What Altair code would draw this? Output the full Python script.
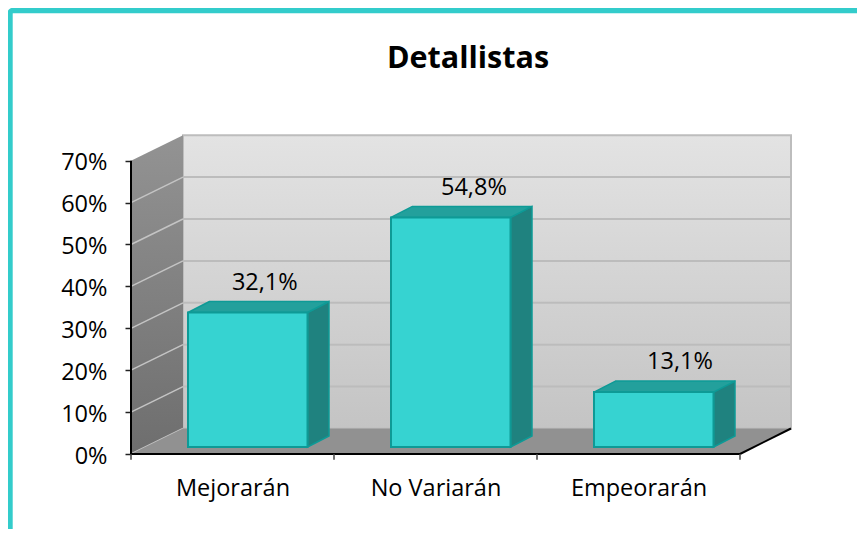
import altair as alt
import pandas as pd

title_text = "Detallistas"
categories = ["Mejorarán", "No Variarán", "Empeorarán"]
values = [32.1, 54.8, 13.1]
labels = ["32,1%", "54,8%", "13,1%"]
y_ticks = [0, 10, 20, 30, 40, 50, 60, 70]
x_ticks = [0, 1, 2, 3]
x_label_pos = [0.5, 1.5, 2.5]

# scale geometry (data units)
W, H = 660, 319
XMAX, YMAX = 660 / 203, 319 / 4.19
WALL_DX, WALL_DY = 52 / 203, 25.5 / 4.19      # depth of the floor
BAR_X0, BAR_W = 57 / 203, 119.5 / 203         # bar front offset and width
BAR_BASE = 7 / 4.19
BAR_DX, BAR_DY = 21.5 / 203, 11 / 4.19        # depth of a bar
LABEL_SHIFT = [0.084, 0.114, 0.129]           # data labels sit right of bar centres

FONT = "Open Sans"
FS = 23.5
xs = alt.Scale(domain=[0, XMAX], nice=False, zero=False)
ys = alt.Scale(domain=[0, YMAX], nice=False, zero=False)

expr = "[" + ",".join(f"'{c}'" for c in categories) + "][floor(datum.value)]"
x_axis = alt.Axis(values=x_label_pos, labelExpr=expr, domain=False, ticks=False, grid=False,
                  labelFont=FONT, labelFontSize=FS, labelColor="#000000", labelPadding=34,
                  labelAngle=0, labelBaseline="middle", title=None)
y_axis = alt.Axis(values=y_ticks, labelExpr="datum.value + '%'", domain=False, grid=False,
                  tickColor="#222222", tickSize=6, tickWidth=1.5, labelFont=FONT, labelFontSize=FS,
                  labelColor="#000000", labelPadding=18, labelOffset=2, title=None)


def X(f="x"):
    return alt.X(f"{f}:Q", scale=xs, axis=x_axis)


def Y(f="y"):
    return alt.Y(f"{f}:Q", scale=ys, axis=y_axis, stack=None)


def grad(top, bottom):
    return alt.LinearGradient(
        gradient="linear", x1=0, x2=0, y1=0, y2=1,
        stops=[alt.GradientStop(color=top, offset=0), alt.GradientStop(color=bottom, offset=1)],
    )


# back wall
back = alt.Chart(pd.DataFrame({"x": [WALL_DX], "x2": [XMAX], "y": [WALL_DY], "y2": [70 + WALL_DY]})).mark_rect(
    fill=grad("#e3e3e3", "#c4c4c4"), stroke="#bdbdbd", strokeWidth=2
).encode(x=X(), x2="x2:Q", y=Y(), y2="y2:Q")

# back wall grid lines
grid_df = pd.DataFrame({"y": [v + WALL_DY for v in y_ticks[1:-1]], "x": WALL_DX, "x2": XMAX})
grid = alt.Chart(grid_df).mark_rule(color="#bcbcbc", strokeWidth=2).encode(x=X(), x2="x2:Q", y=Y())

# left wall
left_df = pd.DataFrame({"x": [0, WALL_DX], "y": [0, WALL_DY], "y2": [70, 70 + WALL_DY]})
left = alt.Chart(left_df).mark_area(orient="vertical", fill=grad("#939393", "#6e6e6e")).encode(
    x=X(), y=Y(), y2="y2:Q"
)

# left wall lines
lw_df = pd.DataFrame({"x": 0.0, "x2": WALL_DX, "y": y_ticks[:-1], "y2": [v + WALL_DY for v in y_ticks[:-1]]})
left_lines = alt.Chart(lw_df).mark_rule(color="#c4c4c4", strokeWidth=1.5).encode(
    x=X(), x2="x2:Q", y=Y(), y2="y2:Q"
)

# floor
floor_df = pd.DataFrame({"y": [0, WALL_DY], "x": [0, WALL_DX], "x2": [3, XMAX]})
floor = alt.Chart(floor_df).mark_area(orient="horizontal", fill="#919191").encode(
    y=Y(), x=X(), x2="x2:Q"
)

# bars
front_rows, top_rows, side_rows, label_rows = [], [], [], []
for i, (c, v, lab) in enumerate(zip(categories, values, labels)):
    x0 = i + BAR_X0
    x1 = x0 + BAR_W
    top = v + BAR_BASE
    front_rows.append({"c": c, "x": x0, "x2": x1, "y": BAR_BASE, "y2": top})
    top_rows += [
        {"c": c, "y": top, "x": x0, "x2": x1},
        {"c": c, "y": top + BAR_DY, "x": x0 + BAR_DX, "x2": x1 + BAR_DX},
    ]
    side_rows += [
        {"c": c, "x": x1, "y": BAR_BASE, "y2": top},
        {"c": c, "x": x1 + BAR_DX, "y": BAR_BASE + BAR_DY, "y2": top + BAR_DY},
    ]
    label_rows.append({"x": (x0 + x1) / 2 + LABEL_SHIFT[i], "y": top + 7.1, "t": lab})

EDGE = "#0e9a96"
side = alt.Chart(pd.DataFrame(side_rows)).mark_area(
    orient="vertical", fill="#1f827f", stroke=EDGE, strokeWidth=1.5
).encode(x=X(), y=Y(), y2="y2:Q", detail="c:N")
topf = alt.Chart(pd.DataFrame(top_rows)).mark_area(
    orient="horizontal", fill="#23a09c", stroke=EDGE, strokeWidth=1.5
).encode(y=Y(), x=X(), x2="x2:Q", detail="c:N")
front = alt.Chart(pd.DataFrame(front_rows)).mark_rect(
    fill="#36d3d1", stroke=EDGE, strokeWidth=2
).encode(x=X(), x2="x2:Q", y=Y(), y2="y2:Q")

text = alt.Chart(pd.DataFrame(label_rows)).mark_text(
    font=FONT, fontSize=FS, color="#000000", baseline="middle"
).encode(x=X(), y=Y(), text="t:N")

# axis lines
y_line = alt.Chart(pd.DataFrame({"x": [0], "y": [0], "y2": [70]})).mark_rule(color="#000000", strokeWidth=2).encode(
    x=X(), y=Y(), y2="y2:Q"
)
x_line = alt.Chart(pd.DataFrame({"x": [0], "x2": [3], "y": [0]})).mark_rule(color="#000000", strokeWidth=2).encode(
    x=X(), x2="x2:Q", y=Y()
)
diag = alt.Chart(pd.DataFrame({"x": [3], "x2": [XMAX], "y": [0], "y2": [WALL_DY]})).mark_rule(
    color="#000000", strokeWidth=2
).encode(x=X(), x2="x2:Q", y=Y(), y2="y2:Q")
x_tick_marks = alt.Chart(pd.DataFrame({"x": x_ticks, "y": 0.0, "y2": -1.4})).mark_rule(
    color="#444444", strokeWidth=1.5
).encode(x=X(), y=Y(), y2="y2:Q")

# outer frame and title, placed in pixels relative to the plot area
frame = alt.Chart(pd.DataFrame({"a": [0]})).mark_rect(
    fill="transparent", stroke="#33cccb", strokeWidth=5.4, cornerRadius=3
).encode(
    x=alt.value(10 - 131), x2=alt.value(1000),
    y=alt.value(10.5 - 135), y2=alt.value(1000),
)
title = alt.Chart(pd.DataFrame({"t": [title_text]})).mark_text(
    font=FONT, fontSize=30.5, fontWeight="bold", color="#000000", baseline="middle", align="center"
).encode(x=alt.value(468 - 131), y=alt.value(59 - 135), text="t:N")

chart = alt.layer(
    back, grid, left, left_lines, floor, side, topf, front, text,
    y_line, x_line, diag, x_tick_marks, frame, title,
).properties(
    width=W,
    height=H,
    padding={"left": 123, "top": 127, "right": 66, "bottom": 75},
    autosize=alt.AutoSizeParams(type="none"),
    background="#ffffff",
).configure_view(stroke=None)

chart.save("out.html", embed_options={"renderer": "svg", "actions": False})
